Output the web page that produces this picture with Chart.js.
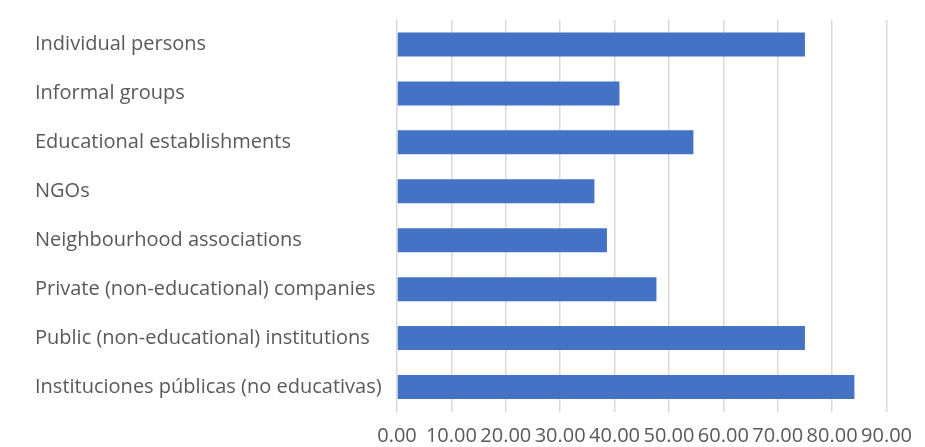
<!DOCTYPE html>
<html>
<head>
<meta charset="utf-8">
<script src="https://cdn.jsdelivr.net/npm/chart.js@4"></script>
<style>
  html, body { margin: 0; padding: 0; background: #fff; }
  #wrap { width: 925px; height: 447px; position: relative; }
</style>
</head>
<body>
<div id="wrap"><canvas id="bars"></canvas></div>
<script>
// categories, top to bottom
const categories = [
    "Individual persons",
    "Informal groups",
    "Educational establishments",
    "NGOs",
    "Neighbourhood associations",
    "Private (non-educational) companies",
    "Public (non-educational) institutions",
    "Instituciones públicas (no educativas)"
];
const values = [75.0, 40.9, 54.5, 36.3, 38.6, 47.7, 75.0, 84.1];

// value axis
const axisMin = 0;
const axisMax = 90;
const axisStep = 10;

const textColor = "#595959";
const barColor = "#4472C4";
const gridColor = "#d9d9d9";

const canvas = document.getElementById("bars");

new Chart(canvas, {
    type: "bar",
    data: {
        labels: categories,
        datasets: [{
            data: values,
            backgroundColor: barColor,
            borderWidth: 0,
            barPercentage: 0.98,
            categoryPercentage: 0.5
        }]
    },
    options: {
        indexAxis: "y",
        responsive: true,
        maintainAspectRatio: false,
        animation: false,
        layout: {
            padding: { left: 35, right: 38, top: 20, bottom: 0 }
        },
        plugins: {
            legend: { display: false },
            tooltip: { enabled: false }
        },
        scales: {
            x: {
                min: axisMin,
                max: axisMax,
                border: { display: false },
                grid: {
                    color: gridColor,
                    lineWidth: 1.5,
                    drawTicks: false
                },
                afterFit: (axis) => { axis.height = 35.5; },
                ticks: {
                    stepSize: axisStep,
                    autoSkip: false,
                    maxRotation: 0,
                    padding: 13,
                    color: textColor,
                    font: { family: "Open Sans", size: 20 },
                    callback: (v) => Number(v).toFixed(2)
                }
            },
            y: {
                border: { display: false },
                grid: { display: false, drawTicks: false },
                afterFit: (axis) => { axis.width = 362; },
                ticks: {
                    crossAlign: "far",
                    autoSkip: false,
                    padding: 0,
                    color: textColor,
                    font: { family: "Open Sans", size: 20 }
                }
            }
        }
    }
});
</script>
</body>
</html>
